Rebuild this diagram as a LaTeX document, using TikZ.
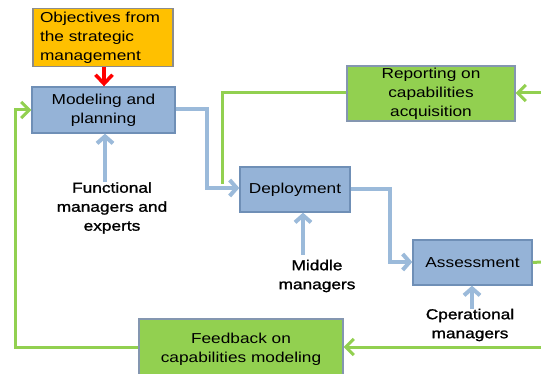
\documentclass[tikz,border=0pt]{standalone}
\usepackage{fontspec}
\setmainfont{Liberation Sans}[FakeStretch=1.2]
\newfontfamily\lblfont{Liberation Sans}[FakeStretch=1.2,FakeBold=1.2]
\usetikzlibrary{arrows.meta}
\definecolor{bfill}{HTML}{95B3D7}
\definecolor{bdraw}{HTML}{6F8FB6}
\definecolor{gfill}{HTML}{92D050}
\definecolor{gdraw}{HTML}{8496B0}
\definecolor{ofill}{HTML}{FFC000}
\definecolor{odraw}{HTML}{8C8C8C}
\definecolor{bline}{HTML}{9BBADA}
\definecolor{gline}{HTML}{92D050}
\begin{document}
\begin{tikzpicture}[x=1pt,y=-1pt,
  font=\fontsize{14.4}{19}\selectfont,
  box/.style={draw, line width=1.4pt, inner sep=0pt, align=center},
  bluebox/.style={box, fill=bfill, draw=bdraw},
  greenbox/.style={box, fill=gfill, draw=gdraw},
  lbl/.style={align=center, inner sep=0pt, font=\fontsize{14.4}{19}\lblfont},
  bluearrow/.style={draw=bline, line width=4pt, -{Straight Barb[length=7pt,width=16pt]}},
  greenarrow/.style={draw=gline, line width=3pt, -{Straight Barb[length=8pt,width=16pt]}},
  greenline/.style={draw=gline, line width=3pt},
]
\useasboundingbox (0,0) rectangle (541,374);
\clip (0,0) rectangle (541,374);
\fill[white] (0,0) rectangle (541,374);

% boxes
\node[box, fill=ofill, draw=odraw, minimum width=140pt, minimum height=58pt, align=left, text width=126pt] (obj) at (103,37.5) {Objectives from\\the strategic\\management};
\node[bluebox, minimum width=143pt, minimum height=46pt] (mod) at (103.5,110) {Modeling and\\planning};
\node[greenbox, minimum width=168pt, minimum height=55pt] (rep) at (431,93.5) {Reporting on\\capabilities\\acquisition};
\node[bluebox, minimum width=110pt, minimum height=45pt] (dep) at (295,189.5) {Deployment};
\node[bluebox, minimum width=119pt, minimum height=45pt] (ass) at (472.5,262.5) {Assessment};
\node[greenbox, minimum width=204pt, minimum height=60pt] (fb) at (241,349) {Feedback on\\capabilities modeling};

% labels
\node[lbl] (fun) at (112,208) {Functional\\managers and\\experts};
\node[lbl] (mid) at (317,276) {Middle\\managers};
\node[lbl] (ope) at (470,325) {Cperational\\managers};

% free ends
\coordinate (rin) at (541,93);
\coordinate (ain) at (541,262);
\coordinate (fin) at (541,347);
\coordinate (gcorner) at (222,93);
\coordinate (gend) at (222,184);

% red arrow
\draw[red, line width=3.5pt, -{Straight Barb[length=9pt,width=17pt]}] (obj.south -| 104,0) -- (mod.north -| 104,0);

% blue arrows
\draw[bluearrow] ([yshift=1pt]mod.east) -| (207,188) -- (dep.west |- 0,188);
\draw[bluearrow] (dep.east) -| (390,262) -- (ass.west |- 0,262);
\draw[bluearrow] (fun.north -| 105,0) -- (mod.south -| 105,0);
\draw[bluearrow] (303,255) -- (dep.south -| 303,0);
\draw[bluearrow] (ope.north -| 472,0) -- (ass.south -| 472,0);

% green lines
\draw[greenarrow] (rin) -- (rep.east |- rin);
\draw[greenline] (rep.west |- rin) -- (gcorner) -- (gend);
\draw[greenline] (ass.east) -- (ain);
\draw[greenarrow] (fin) -- (fb.east |- fin);
\draw[greenarrow] (fb.west |- 0,347) -| (15,110) -- (mod.west);
\end{tikzpicture}
\end{document}
